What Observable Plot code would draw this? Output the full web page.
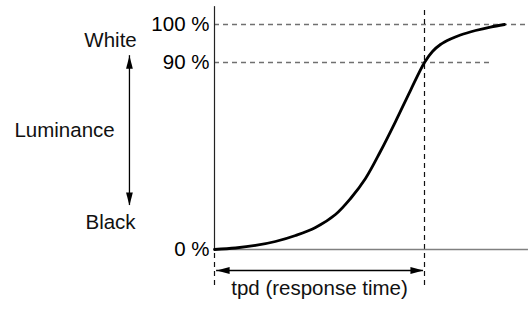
<!DOCTYPE html>
<html>
<head>
<meta charset="utf-8">
<script src="https://cdn.jsdelivr.net/npm/d3@7"></script>
<script src="https://cdn.jsdelivr.net/npm/@observablehq/plot@0.6"></script>
<style>
  html, body { margin: 0; padding: 0; background: #fff; }
</style>
</head>
<body>
<div id="chart"></div>
<script>
// Response curve: time (arbitrary units, tpd = 10) vs luminance (%)
const curveTime = [0, 1.0, 1.95, 2.9, 3.86, 4.81, 5.76, 6.48, 7.19, 7.90, 8.62, 9.33, 10, 10.38, 10.76, 11.24, 11.71, 12.43, 13.14, 13.81];
const curveLum  = [0, 0.72, 1.93, 3.85, 6.74, 10.59, 16.84, 24.55, 34.17, 47.17, 61.60, 76.52, 90, 92.89, 94.74, 96.18, 97.24, 98.42, 99.34, 100];

const yTicks = [0, 90, 100];
const tickLabels = ["0 %", "90 %", "100 %"];
const tpd = 10;

// guide lines
const guideLevels = [100, 90];
const guideEnds = [14.95, 13.2];

// text annotations
const annoText = ["White", "Luminance", "Black", "tpd (response time)"];
const annoX = [-4.95, -7.14, -4.95, 5.0];
const annoY = [95.8, 57.3, 13.0, -18.8];

// arrows: vertical luminance arrow and horizontal tpd arrow
const lumArrowX = -4.05;
const lumArrowTop = 91.8;
const lumArrowBottom = 21.2;
const tpdArrowY = -10.1;

// schematic (non-linear) luminance axis: the 90–100 % band is drawn stretched
const lumToDisplay = (p) => p <= 90 ? p * 0.92346 : 83.11 + (p - 90) * 1.6889;

const guides = guideLevels.map((y, i) => ({y, x2: guideEnds[i]}));
const curve = curveTime.map((t, i) => ({t, l: curveLum[i]}));
const annos = annoText.map((text, i) => ({text, x: annoX[i], y: annoY[i]}));
const heads = [
  {x: lumArrowX, y: lumArrowTop, rot: 0},
  {x: lumArrowX, y: lumArrowBottom, rot: 180},
  {x: 0.1, y: tpdArrowY, rot: -90},
  {x: tpd - 0.05, y: tpdArrowY, rot: 90}
];

const headSymbol = {
  draw(ctx) {
    ctx.moveTo(0, 0);
    ctx.lineTo(3.4, 13);
    ctx.lineTo(-3.4, 13);
    ctx.closePath();
  }
};

const fontFamily = "'Liberation Sans', Arial, Helvetica, sans-serif";
const fontSize = 20.5;

const chart = Plot.plot({
  width: 528,
  height: 309,
  marginLeft: 214,
  marginRight: 0,
  marginTop: 0,
  marginBottom: 0,
  style: {fontFamily, fontSize: `${fontSize}px`, background: "#fff", color: "#000"},
  x: {type: "linear", domain: [0, tpd], range: [214, 424], axis: null},
  y: {
    type: "linear",
    transform: lumToDisplay,
    domain: [0, 100],
    range: [249, 24],
    ticks: yTicks.map(lumToDisplay),
    tickFormat: (d) => tickLabels[yTicks.map(lumToDisplay).findIndex((v) => Math.abs(v - d) < 1e-6)],
    tickSize: 0,
    tickPadding: 5,
    label: null
  },
  marks: [
    // dashed guide lines
    Plot.ruleY(guides, {y: "y", x1: 0, x2: "x2", stroke: "#707070", strokeWidth: 1.3, strokeDasharray: "5,4"}),
    Plot.ruleX([tpd], {y1: -17.3, y2: 104.7, stroke: "#111", strokeWidth: 1.2, strokeDasharray: "5,4"}),
    Plot.ruleX([0], {y1: -17.3, y2: 0, stroke: "#111", strokeWidth: 1.2, strokeDasharray: "5,4"}),
    // axes lines
    Plot.ruleY([0], {x1: 0, x2: 14.95, stroke: "#808080", strokeWidth: 1.6}),
    Plot.ruleX([0], {y1: 0, y2: 104.7, stroke: "#222", strokeWidth: 1.2}),
    // response curve
    Plot.line(curve, {x: "t", y: "l", stroke: "#000", strokeWidth: 2.8, curve: "catmull-rom"}),
    // arrows
    Plot.ruleX([lumArrowX], {y1: lumArrowBottom, y2: lumArrowTop, stroke: "#000", strokeWidth: 1.3}),
    Plot.ruleY([tpdArrowY], {x1: 0.1, x2: tpd - 0.05, stroke: "#000", strokeWidth: 1.3}),
    Plot.dot(heads, {x: "x", y: "y", rotate: "rot", symbol: headSymbol, fill: "#000", stroke: "none", r: 4}),
    // annotations
    Plot.text(annos, {x: "x", y: "y", text: "text", fontSize, fill: "#111"})
  ]
});

document.getElementById("chart").appendChild(chart);
</script>
</body>
</html>
